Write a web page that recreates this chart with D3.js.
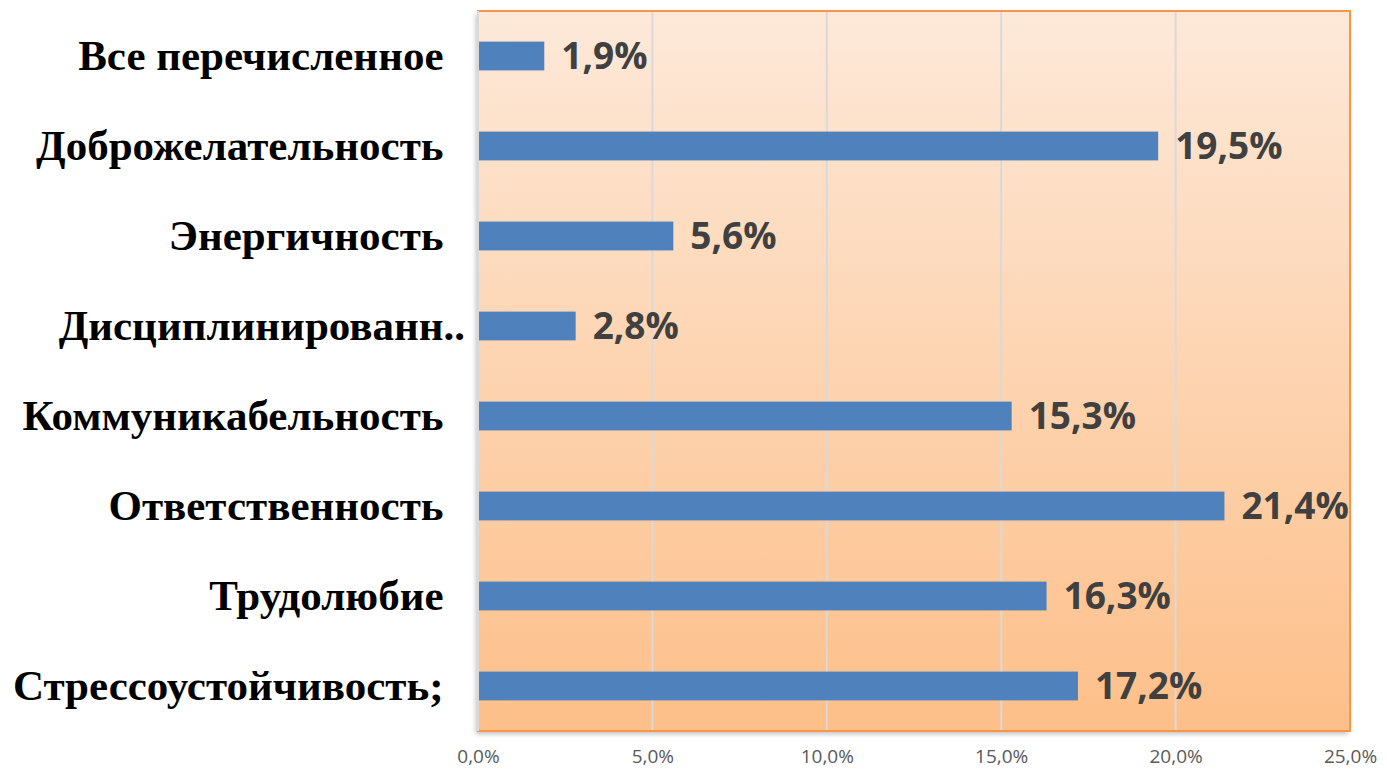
<!DOCTYPE html>
<html>
<head>
<meta charset="utf-8">
<script src="https://cdn.jsdelivr.net/npm/d3@7"></script>
<style>
  body { margin: 0; background: #fff; }
</style>
</head>
<body>
<svg id="chart" width="1387" height="774"></svg>
<script>
// данные с картинки, сверху вниз (пробелы в конце - как в исходной подписи)
var categories = ["Все перечисленное  ", "Доброжелательность  ", "Энергичность  ", "Дисциплинированн..",
                  "Коммуникабельность  ", "Ответственность  ", "Трудолюбие  ", "Стрессоустойчивость;  "];
var values = [1.9, 19.5, 5.6, 2.8, 15.3, 21.4, 16.3, 17.2];
var tickValues = [0, 5, 10, 15, 20, 25];

var fmt = function(v) { return v.toFixed(1).replace(".", ",") + "%"; };

var margin = {top: 11, right: 37, bottom: 43, left: 478},
    width = 1387 - margin.left - margin.right,
    height = 774 - margin.top - margin.bottom;

var svg = d3.select("#chart");

var defs = svg.append("defs");
var grad = defs.append("linearGradient")
    .attr("id", "bg")
    .attr("x1", "0").attr("y1", "0").attr("x2", "0").attr("y2", "1");
grad.append("stop").attr("offset", "0%").attr("stop-color", "#fde9d9");
grad.append("stop").attr("offset", "100%").attr("stop-color", "#fdbf89");

var shadow = defs.append("filter").attr("id", "shadow")
    .attr("x", "-5%").attr("y", "-5%").attr("width", "110%").attr("height", "110%");
shadow.append("feDropShadow")
    .attr("dx", -2).attr("dy", 3).attr("stdDeviation", 2.5)
    .attr("flood-color", "#000").attr("flood-opacity", 0.25);

var g = svg.append("g")
    .attr("transform", "translate(" + margin.left + "," + margin.top + ")");

var x = d3.scaleLinear().domain([0, 25]).range([0, width]);
var y = d3.scaleBand().domain(categories).range([0, height]).paddingInner(0.68).paddingOuter(0.34);

// фон области построения
g.append("rect")
    .attr("width", width).attr("height", height)
    .attr("fill", "url(#bg)")
    .attr("filter", "url(#shadow)");

// сетка
g.selectAll(".grid")
  .data(tickValues.slice(1, -1))
  .enter()
  .append("line")
    .attr("x1", function(d) { return x(d); })
    .attr("x2", function(d) { return x(d); })
    .attr("y1", 0).attr("y2", height)
    .attr("stroke", "#d9d9d9").attr("stroke-width", 2);

// рамка
g.append("rect")
    .attr("width", width).attr("height", height)
    .attr("fill", "none")
    .attr("stroke", "#f79646").attr("stroke-width", 2);
g.append("line")
    .attr("x1", 0).attr("x2", 0).attr("y1", 0).attr("y2", height)
    .attr("stroke", "#d9d9d9").attr("stroke-width", 2);

// столбики
g.selectAll(".bar")
  .data(values)
  .enter()
  .append("rect")
    .attr("x", x(0) + 1)
    .attr("y", function(d, i) { return y(categories[i]); })
    .attr("width", function(d) { return x(d) - x(0) - 1; })
    .attr("height", y.bandwidth())
    .attr("fill", "#4f81bd");

// подписи значений
g.selectAll(".val")
  .data(values)
  .enter()
  .append("text")
    .attr("x", function(d) { return x(d) + 17; })
    .attr("y", function(d, i) { return y(categories[i]) + y.bandwidth() / 2; })
    .attr("dy", "0.36em")
    .attr("font-family", "'Open Sans', sans-serif")
    .attr("font-weight", "bold")
    .attr("font-size", "37px")
    .attr("fill", "#404040")
    .text(function(d) { return fmt(d); });

// ось X
var xAxis = g.append("g")
    .attr("transform", "translate(0," + height + ")")
    .call(d3.axisBottom(x).tickValues(tickValues).tickSize(0).tickPadding(19)
          .tickFormat(function(d) { return fmt(d); }));
xAxis.select(".domain").remove();
xAxis.selectAll("text")
    .attr("font-family", "'Open Sans', sans-serif")
    .attr("font-size", "19px")
    .attr("fill", "#595959");

// категории
var yAxis = g.append("g")
    .call(d3.axisLeft(y).tickSize(0).tickPadding(13));
yAxis.select(".domain").remove();
yAxis.selectAll("text")
    .style("white-space", "pre")
    .attr("font-family", "'Liberation Serif', 'Times New Roman', serif")
    .attr("font-weight", "bold")
    .attr("font-size", "43px")
    .attr("fill", "#000");
</script>
</body>
</html>
